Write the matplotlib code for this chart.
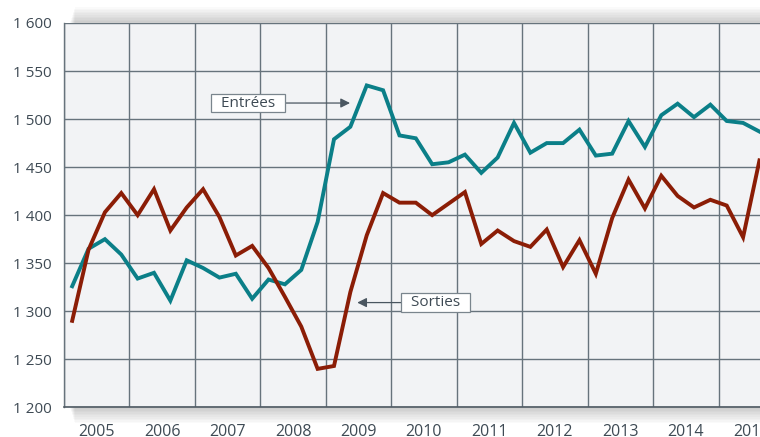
import numpy as np
import matplotlib
matplotlib.use("Agg")
import matplotlib.pyplot as plt
from matplotlib.patches import Rectangle

plt.rcParams['font.family'] = ['Open Sans', 'DejaVu Sans']

# quarterly series, 2005 T1 .. 2015 T3
entrees = [1326, 1365, 1375, 1359, 1334, 1340, 1311, 1353, 1345, 1335, 1339, 1313,
           1333, 1328, 1343, 1393, 1479, 1492, 1535, 1530, 1483, 1480, 1453, 1455,
           1463, 1444, 1460, 1496, 1465, 1475, 1475, 1489, 1462, 1464, 1498, 1471,
           1504, 1516, 1502, 1515, 1498, 1496, 1487]
sorties = [1290, 1364, 1403, 1423, 1400, 1427, 1384, 1408, 1427, 1398, 1358, 1368,
           1345, 1315, 1284, 1240, 1243, 1320, 1379, 1423, 1413, 1413, 1400, 1412,
           1424, 1370, 1384, 1373, 1367, 1385, 1346, 1374, 1339, 1397, 1437, 1407,
           1441, 1420, 1408, 1416, 1410, 1377, 1457]
years = list(range(2005, 2016))
yticks = [1200, 1250, 1300, 1350, 1400, 1450, 1500, 1550, 1600]

teal = '#0b7f88'
red = '#8b1d06'
grid_c = '#67737c'
text_c = '#3e4a54'

fig = plt.figure(figsize=(7.6, 4.37), dpi=100)
fig.patch.set_facecolor('white')

# axes extends past the right edge (the source image is cropped)
W, H = 760, 437
x0, x1 = 64, 784
y_top, y_bot = 23, 407.3
ax = fig.add_axes([x0 / W, (H - y_bot) / H, (x1 - x0) / W, (y_bot - y_top) / H])

# soft drop shadow behind the plot area
for k in range(10):
    d = 1.6 * (k + 1)
    fig.patches.append(Rectangle(((x0 + 6 + d * 0.3) / W, (H - y_bot - d) / H),
                                 (x1 - x0) / W, (y_bot - y_top + 2 * d) / H,
                                 transform=fig.transFigure, facecolor='#000000',
                                 alpha=0.018, edgecolor='none', zorder=-5))

ax.set_facecolor('#f2f3f5')
ax.set_zorder(2)

x = [years[0] + (i + 0.5) / 4 for i in range(len(entrees))]
ax.plot(x, entrees, color=teal, lw=2.8, solid_joinstyle='miter', zorder=3)
ax.plot(x, sorties, color=red, lw=2.8, solid_joinstyle='miter', zorder=3)

ax.set_xlim(years[0], years[-1] + 1)
ax.set_ylim(1200, 1600)
ax.set_yticks(yticks)
ax.set_yticklabels([f"{v:,}".replace(",", " ") for v in yticks])
ax.set_xticks(years + [years[-1] + 1])
ax.set_xticklabels([])
ax.set_xticks([yr + 0.5 for yr in years], minor=True)
ax.set_xticklabels([str(yr) for yr in years], minor=True)

ax.grid(True, which='major', color=grid_c, lw=1.0)
ax.set_axisbelow(True)
ax.tick_params(axis='both', which='both', length=0, colors=text_c, labelsize=11)
ax.tick_params(axis='y', pad=9)
ax.tick_params(axis='x', which='minor', pad=12, labelsize=11.5)
for s in ['top', 'right']:
    ax.spines[s].set_visible(False)
ax.spines['left'].set_color(grid_c)
ax.spines['left'].set_linewidth(1.0)
ax.spines['bottom'].set_color('#4f5a63')
ax.spines['bottom'].set_linewidth(1.2)

box = dict(boxstyle='square,pad=0.12', fc='white', ec='#7a858d', lw=0.9)
arrow = dict(arrowstyle='-|>', color='#4a5660', lw=0.9, mutation_scale=14,
             shrinkA=0, shrinkB=0)
ax.annotate('  Entrées  ', xy=(2009.37, 1516.7), xytext=(2007.81, 1516.7),
            ha='center', va='center', fontsize=11, color=text_c,
            bbox=box, arrowprops=arrow, zorder=4)
ax.annotate('  Sorties  ', xy=(2009.48, 1309), xytext=(2010.68, 1309),
            ha='center', va='center', fontsize=11, color=text_c,
            bbox=box, arrowprops=arrow, zorder=4)

fig.savefig('out.png', dpi=100)
